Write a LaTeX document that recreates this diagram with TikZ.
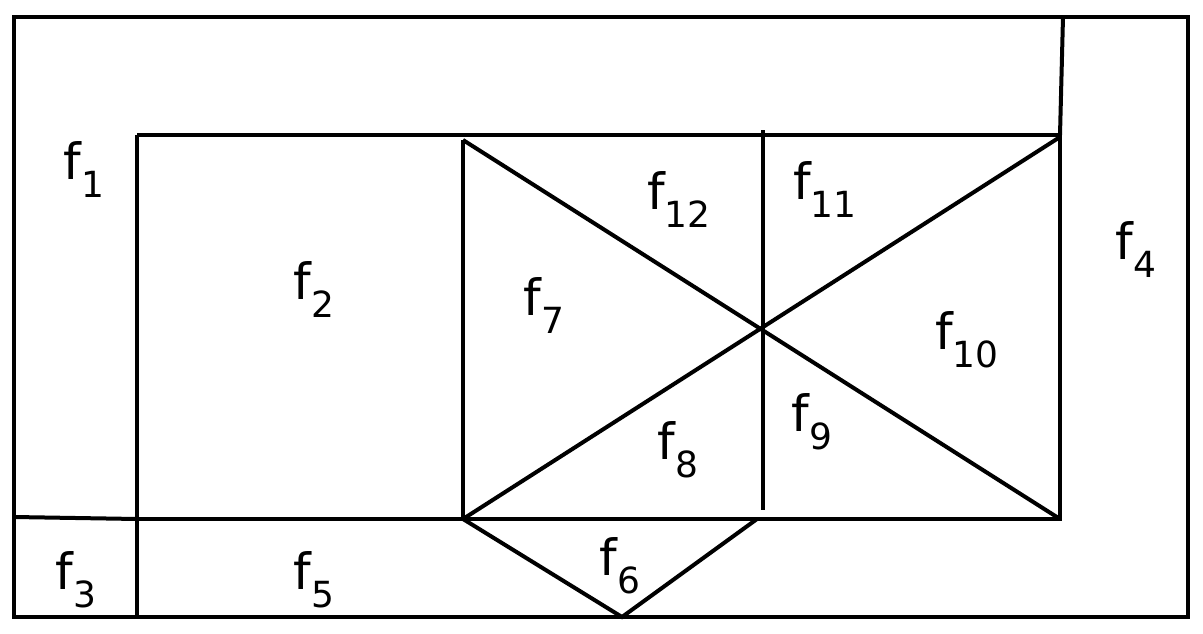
\documentclass[tikz,border=0pt]{standalone}
\usepackage{fontspec}
\setmainfont{DejaVu Sans}
\newcommand{\fl}[1]{f\raisebox{-0.36em}{\fontsize{36}{36}\selectfont #1}}
\begin{document}
\begin{tikzpicture}[x=1pt,y=-1pt,line width=4pt,
  lab/.style={font=\fontsize{50}{50}\selectfont,inner sep=0pt}]
\useasboundingbox (0,0) rectangle (1203,634);
\coordinate (o1) at (14,17); \coordinate (o2) at (1188,617);
\draw (o1) rectangle (o2);
\coordinate (tr) at (1063,17); \coordinate (ir) at (1060,135);
\draw (tr) -- (ir);
\coordinate (a) at (137,135); \coordinate (b) at (1060,135);
\coordinate (c) at (1060,519); \coordinate (d) at (137,519);
\draw (a) -- (b) -- (c) -- (d);
\coordinate (ab) at (137,617); \draw (a) -- (ab);
\coordinate (l) at (14,517); \draw (l) -- (d);
\coordinate (m1) at (463,140); \coordinate (m2) at (463,519);
\draw (m1) -- (m2);
\coordinate (v1) at (763,130); \coordinate (v2) at (763,510);
\draw (v1) -- (v2);
\draw (m1) -- (c);
\draw (m2) -- (1060,137);
\coordinate (t) at (622,617); \coordinate (t2) at (757,519);
\draw (m2) -- (t) -- (t2);
\node[lab] (f1) at (84,170) {\fl1};
\node[lab] (f2) at (314,290) {\fl2};
\node[lab] (f3) at (76,580) {\fl3};
\node[lab] (f4) at (1136,250) {\fl4};
\node[lab] (f5) at (314,580) {\fl5};
\node[lab] (f6) at (620,566) {\fl6};
\node[lab] (f7) at (544,306) {\fl7};
\node[lab] (f8) at (678,450) {\fl8};
\node[lab] (f9) at (812,422) {\fl9};
\node[lab] (f10) at (967,340) {\fl{10}};
\node[lab] (f11) at (825,190) {\fl{11}};
\node[lab] (f12) at (679,200) {\fl{12}};
\end{tikzpicture}
\end{document}
